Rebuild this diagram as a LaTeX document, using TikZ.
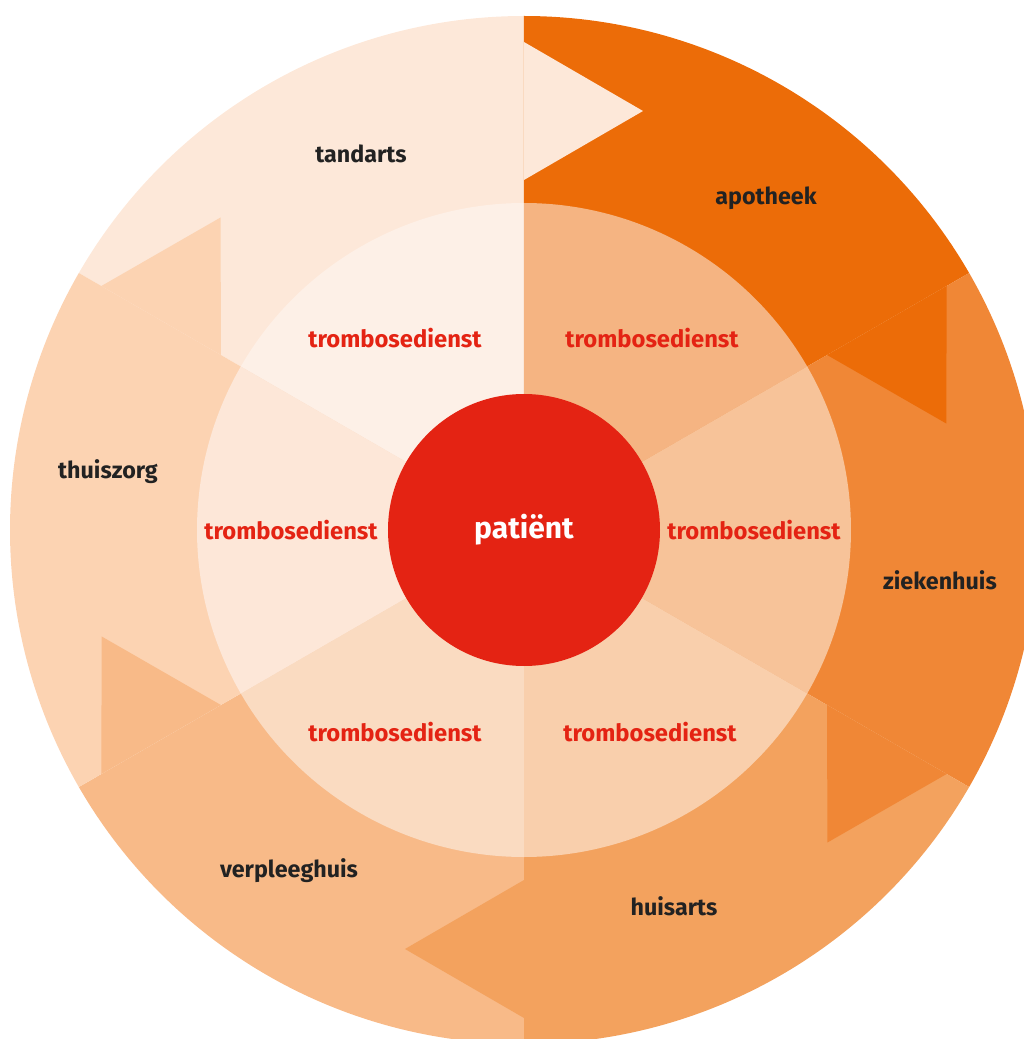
\documentclass[tikz,border=0pt]{standalone}
\usepackage{fontspec}
\setmainfont{Fira Sans}
\usetikzlibrary{calc}
\definecolor{cTand}{HTML}{FDE8D9}
\definecolor{cApot}{HTML}{EC6C08}
\definecolor{cZiek}{HTML}{F08736}
\definecolor{cHuis}{HTML}{F3A25E}
\definecolor{cVerp}{HTML}{F8BA88}
\definecolor{cThui}{HTML}{FCD3B2}
\definecolor{mA}{HTML}{FDF0E7}
\definecolor{mB}{HTML}{F5B482}
\definecolor{mC}{HTML}{F7C399}
\definecolor{mD}{HTML}{F9CFAC}
\definecolor{mE}{HTML}{FADBC1}
\definecolor{mF}{HTML}{FDE7D8}
\definecolor{pRed}{HTML}{E42313}
\definecolor{txtDark}{HTML}{222222}
\tikzset{
  lbl/.style={font=\bfseries\fontsize{23.3}{26}\selectfont, text=txtDark, inner sep=0pt},
  trb/.style={font=\bfseries\fontsize{23.8}{26}\selectfont, text=pRed, inner sep=0pt},
}
\begin{document}
\begin{tikzpicture}[x=1pt,y=1pt]
\useasboundingbox (-524,-509) rectangle (500,530);
\clip (-524,-509) rectangle (500,530);
% outer sectors: start angle, color
\foreach \a/\c in {90/cTand, 30/cApot, -30/cZiek, -90/cHuis, -150/cVerp, 150/cThui}{
  \fill[\c] (0,0) -- (\a:514) arc[start angle=\a, delta angle=60, radius=514] -- cycle;
}
% arrow tips, each across the clockwise boundary of its sector
\foreach \a/\c in {90/cTand, 30/cApot, -30/cZiek, -90/cHuis, -150/cVerp, 150/cThui}{
  \fill[\c] (\a:350) -- ($(\a:419)+(\a-90:119)$) -- (\a:488) -- cycle;
}
% middle ring
\foreach \a/\c in {90/mA, 30/mB, -30/mC, -90/mD, -150/mE, 150/mF}{
  \fill[\c] (0,0) -- (\a:327) arc[start angle=\a, delta angle=60, radius=327] -- cycle;
}
\node[circle, fill=pRed, minimum size=272pt, inner sep=0pt, text=white,
  font=\bfseries\fontsize{30}{34}\selectfont] (patient) at (0,0) {patiënt};
% outer labels
\node[lbl] (tandarts) at (-163,376) {tandarts};
\node[lbl] (apotheek) at (242,332) {apotheek};
\node[lbl] (thuiszorg) at (-416,58) {thuiszorg};
\node[lbl] (ziekenhuis) at (416,-50) {ziekenhuis};
\node[lbl] (huisarts) at (150,-376) {huisarts};
\node[lbl] (verpleeghuis) at (-235,-341) {verpleeghuis};
% middle labels
\node[trb] (t1) at (-129,192) {trombosedienst};
\node[trb] (t2) at (128,192) {trombosedienst};
\node[trb] (t3) at (-233,0) {trombosedienst};
\node[trb] (t4) at (230,0) {trombosedienst};
\node[trb] (t5) at (-129,-202) {trombosedienst};
\node[trb] (t6) at (126,-202) {trombosedienst};
\end{tikzpicture}
\end{document}
